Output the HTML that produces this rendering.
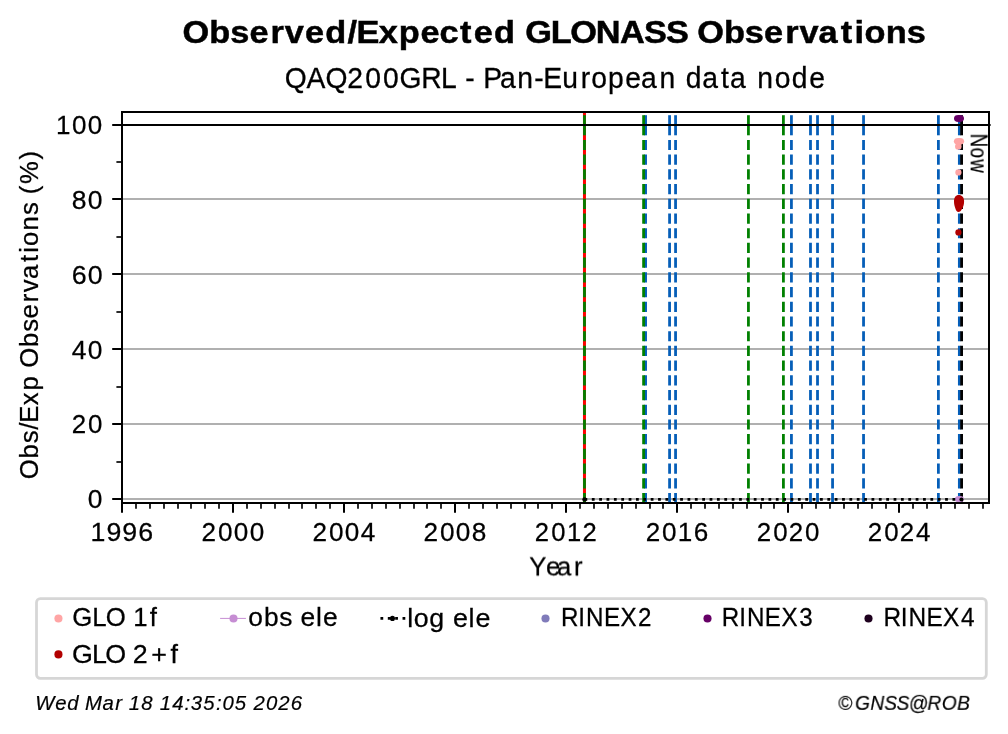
<!DOCTYPE html>
<html lang="en"><head><meta charset="utf-8"><title>Observed/Expected GLONASS Observations</title>
<style>html,body{margin:0;padding:0;background:#fff}body{width:1008px;height:734px;overflow:hidden}svg{display:block}text{font-family:"Liberation Sans",sans-serif;font-size:20px;fill:#000}</style>
</head><body>
<svg width="1008" height="734" viewBox="0 0 1008 734" style="will-change:transform">
<defs><mask id="m" maskUnits="userSpaceOnUse" x="0" y="0" width="1008" height="734"><rect width="1008" height="734" fill="#fff"/></mask></defs>
<rect width="1008" height="734" fill="#fff"/>
<g stroke="#b0b0b0" stroke-width="2">
<line x1="122" x2="989" y1="499" y2="499"/>
<line x1="122" x2="989" y1="424" y2="424"/>
<line x1="122" x2="989" y1="349" y2="349"/>
<line x1="122" x2="989" y1="274" y2="274"/>
<line x1="122" x2="989" y1="199" y2="199"/>
</g>
<g stroke-width="2.78" fill="none">
<line x1="584.47" x2="584.47" y1="112" y2="503" stroke="#f00" stroke-width="3"/>
<line x1="584.47" x2="584.47" y1="115.2" y2="135.3" stroke="#008000"/><line x1="584.47" x2="584.47" y1="139.9" y2="503.5" stroke="#008000" stroke-dasharray="10.2 4.51"/>
<line x1="645.58" x2="645.58" y1="115.2" y2="135.3" stroke="#055eb8"/><line x1="645.58" x2="645.58" y1="139.9" y2="503.5" stroke="#055eb8" stroke-dasharray="10.2 4.51"/>
<line x1="643.6" x2="643.6" y1="115.2" y2="135.3" stroke="#008000"/><line x1="643.6" x2="643.6" y1="139.9" y2="503.5" stroke="#008000" stroke-dasharray="10.2 4.51"/>
<line x1="669.57" x2="669.57" y1="115.2" y2="135.3" stroke="#055eb8"/><line x1="669.57" x2="669.57" y1="139.9" y2="503.5" stroke="#055eb8" stroke-dasharray="10.2 4.51"/>
<line x1="675.56" x2="675.56" y1="115.2" y2="135.3" stroke="#055eb8"/><line x1="675.56" x2="675.56" y1="139.9" y2="503.5" stroke="#055eb8" stroke-dasharray="10.2 4.51"/>
<line x1="748.43" x2="748.43" y1="115.2" y2="135.3" stroke="#008000"/><line x1="748.43" x2="748.43" y1="139.9" y2="503.5" stroke="#008000" stroke-dasharray="10.2 4.51"/>
<line x1="783.41" x2="783.41" y1="115.2" y2="135.3" stroke="#008000"/><line x1="783.41" x2="783.41" y1="139.9" y2="503.5" stroke="#008000" stroke-dasharray="10.2 4.51"/>
<line x1="791.43" x2="791.43" y1="115.2" y2="135.3" stroke="#055eb8"/><line x1="791.43" x2="791.43" y1="139.9" y2="503.5" stroke="#055eb8" stroke-dasharray="10.2 4.51"/>
<line x1="810.49" x2="810.49" y1="115.2" y2="135.3" stroke="#055eb8"/><line x1="810.49" x2="810.49" y1="139.9" y2="503.5" stroke="#055eb8" stroke-dasharray="10.2 4.51"/>
<line x1="817.51" x2="817.51" y1="115.2" y2="135.3" stroke="#055eb8"/><line x1="817.51" x2="817.51" y1="139.9" y2="503.5" stroke="#055eb8" stroke-dasharray="10.2 4.51"/>
<line x1="832.56" x2="832.56" y1="115.2" y2="135.3" stroke="#055eb8"/><line x1="832.56" x2="832.56" y1="139.9" y2="503.5" stroke="#055eb8" stroke-dasharray="10.2 4.51"/>
<line x1="863.54" x2="863.54" y1="115.2" y2="135.3" stroke="#055eb8"/><line x1="863.54" x2="863.54" y1="139.9" y2="503.5" stroke="#055eb8" stroke-dasharray="10.2 4.51"/>
<line x1="938.39" x2="938.39" y1="115.2" y2="135.3" stroke="#055eb8"/><line x1="938.39" x2="938.39" y1="139.9" y2="503.5" stroke="#055eb8" stroke-dasharray="10.2 4.51"/>
<line x1="959.35" x2="959.35" y1="115.2" y2="135.3" stroke="#055eb8"/><line x1="959.35" x2="959.35" y1="139.9" y2="503.5" stroke="#055eb8" stroke-dasharray="10.2 4.51"/>
<line x1="961.6" x2="961.6" y1="115.2" y2="135.3" stroke="#000"/><line x1="961.6" x2="961.6" y1="139.9" y2="503.5" stroke="#000" stroke-dasharray="10.2 4.51"/>
</g>
<line x1="122" x2="990.6" y1="125" y2="125" stroke="#000" stroke-width="2"/>
<rect x="954.9" y="495.9" width="9" height="6.4" rx="3.9" ry="3.2" fill="#c68dd3"/>
<line x1="584.47" x2="961.4" y1="499.4" y2="499.4" stroke="#000" stroke-width="2.6" stroke-dasharray="2.78 4.58"/>
<circle cx="584.5" cy="499.4" r="2.2"/><circle cx="961.5" cy="499.4" r="2"/>
<g fill="#ffa5a5"><rect x="953.9" y="137.9" width="10.2" height="6.8" rx="4.3" ry="3.4"/><circle cx="958.3" cy="146.4" r="3.25"/><circle cx="958.4" cy="172.45" r="3.1"/></g>
<g fill="#b20000"><path d="M958.8 195C962 195 964.1 197.6 964.1 201C964.1 205 963.2 207 961.7 209.4C960.6 211.2 959.6 211.9 958.5 211.9C957 211.9 955.9 210.6 955.3 208.2C954.7 206 954 204.6 954 201.4C954 197.6 955.6 195 958.8 195Z"/><circle cx="958.4" cy="232.45" r="3.1"/></g>
<rect x="954" y="115.1" width="10" height="6.8" rx="4.3" ry="3.4" fill="#660066"/>
<rect x="122" y="112" width="867" height="391" fill="none" stroke="#000" stroke-width="2"/>
<g stroke="#000" stroke-width="2">
<line x1="112.2" x2="122" y1="499" y2="499"/>
<line x1="112.2" x2="122" y1="424" y2="424"/>
<line x1="112.2" x2="122" y1="349" y2="349"/>
<line x1="112.2" x2="122" y1="274" y2="274"/>
<line x1="112.2" x2="122" y1="199" y2="199"/>
<line x1="112.2" x2="122" y1="125" y2="125"/>
<line x1="122" x2="122" y1="503" y2="512.7"/>
<line x1="233" x2="233" y1="503" y2="512.7"/>
<line x1="344" x2="344" y1="503" y2="512.7"/>
<line x1="455" x2="455" y1="503" y2="512.7"/>
<line x1="566" x2="566" y1="503" y2="512.7"/>
<line x1="677" x2="677" y1="503" y2="512.7"/>
<line x1="788" x2="788" y1="503" y2="512.7"/>
<line x1="899" x2="899" y1="503" y2="512.7"/>
</g>
<g stroke="#000" stroke-width="1.67">
<line x1="116.4" x2="122" y1="462" y2="462"/>
<line x1="116.4" x2="122" y1="387" y2="387"/>
<line x1="116.4" x2="122" y1="312" y2="312"/>
<line x1="116.4" x2="122" y1="237" y2="237"/>
<line x1="116.4" x2="122" y1="162" y2="162"/>
<line x1="136" x2="136" y1="503" y2="508.7"/>
<line x1="150" x2="150" y1="503" y2="508.7"/>
<line x1="164" x2="164" y1="503" y2="508.7"/>
<line x1="178" x2="178" y1="503" y2="508.7"/>
<line x1="191" x2="191" y1="503" y2="508.7"/>
<line x1="205" x2="205" y1="503" y2="508.7"/>
<line x1="219" x2="219" y1="503" y2="508.7"/>
<line x1="247" x2="247" y1="503" y2="508.7"/>
<line x1="261" x2="261" y1="503" y2="508.7"/>
<line x1="275" x2="275" y1="503" y2="508.7"/>
<line x1="289" x2="289" y1="503" y2="508.7"/>
<line x1="302" x2="302" y1="503" y2="508.7"/>
<line x1="316" x2="316" y1="503" y2="508.7"/>
<line x1="330" x2="330" y1="503" y2="508.7"/>
<line x1="358" x2="358" y1="503" y2="508.7"/>
<line x1="372" x2="372" y1="503" y2="508.7"/>
<line x1="386" x2="386" y1="503" y2="508.7"/>
<line x1="400" x2="400" y1="503" y2="508.7"/>
<line x1="414" x2="414" y1="503" y2="508.7"/>
<line x1="427" x2="427" y1="503" y2="508.7"/>
<line x1="441" x2="441" y1="503" y2="508.7"/>
<line x1="469" x2="469" y1="503" y2="508.7"/>
<line x1="483" x2="483" y1="503" y2="508.7"/>
<line x1="497" x2="497" y1="503" y2="508.7"/>
<line x1="511" x2="511" y1="503" y2="508.7"/>
<line x1="525" x2="525" y1="503" y2="508.7"/>
<line x1="538" x2="538" y1="503" y2="508.7"/>
<line x1="552" x2="552" y1="503" y2="508.7"/>
<line x1="580" x2="580" y1="503" y2="508.7"/>
<line x1="594" x2="594" y1="503" y2="508.7"/>
<line x1="608" x2="608" y1="503" y2="508.7"/>
<line x1="622" x2="622" y1="503" y2="508.7"/>
<line x1="636" x2="636" y1="503" y2="508.7"/>
<line x1="650" x2="650" y1="503" y2="508.7"/>
<line x1="663" x2="663" y1="503" y2="508.7"/>
<line x1="691" x2="691" y1="503" y2="508.7"/>
<line x1="705" x2="705" y1="503" y2="508.7"/>
<line x1="719" x2="719" y1="503" y2="508.7"/>
<line x1="733" x2="733" y1="503" y2="508.7"/>
<line x1="747" x2="747" y1="503" y2="508.7"/>
<line x1="761" x2="761" y1="503" y2="508.7"/>
<line x1="774" x2="774" y1="503" y2="508.7"/>
<line x1="802" x2="802" y1="503" y2="508.7"/>
<line x1="816" x2="816" y1="503" y2="508.7"/>
<line x1="830" x2="830" y1="503" y2="508.7"/>
<line x1="844" x2="844" y1="503" y2="508.7"/>
<line x1="858" x2="858" y1="503" y2="508.7"/>
<line x1="872" x2="872" y1="503" y2="508.7"/>
<line x1="886" x2="886" y1="503" y2="508.7"/>
<line x1="913" x2="913" y1="503" y2="508.7"/>
<line x1="927" x2="927" y1="503" y2="508.7"/>
<line x1="941" x2="941" y1="503" y2="508.7"/>
<line x1="955" x2="955" y1="503" y2="508.7"/>
<line x1="969" x2="969" y1="503" y2="508.7"/>
<line x1="983" x2="983" y1="503" y2="508.7"/>
</g>
<rect x="36.5" y="598.7" width="949.8" height="79.7" rx="3.8" fill="#fff" stroke="#d6d6d6" stroke-width="2.78"/>
<circle cx="58.45" cy="618.45" r="4.05" fill="#ffa5a5"/><circle cx="58.45" cy="654.4" r="4.05" fill="#b20000"/>
<line x1="220.1" x2="245.9" y1="618.4" y2="618.4" stroke="#c68dd3" stroke-width="1"/><circle cx="233.5" cy="618.45" r="4.05" fill="#c68dd3"/>
<line x1="380.45" x2="405.9" y1="618.4" y2="618.4" stroke="#000" stroke-width="2.78" stroke-dasharray="2.78 4.58"/><circle cx="392.45" cy="618.4" r="2.55"/>
<circle cx="545.5" cy="618.45" r="4.05" fill="#807bba"/><circle cx="707.5" cy="618.45" r="4.05" fill="#660066"/><circle cx="868.5" cy="618.45" r="4.05" fill="#1e001e"/>
<g mask="url(#m)">
<text transform="matrix(1.7168 0 0 1.6042 182.88 42.6)" x="-0.21 15.43 27.57 38.75 51.1 59.37 71.08 82.88 95.85 101.16 114.13 125.74 138.43 149.47 161.39 169.44 181.24 193.75 199.46 214.28 225.58 240.44 254.67 268.58 281.39 293.58 299.56 315.2 327.34 338.51 350.86 359.14 370.23 383.24 391.21 397.05 409.44 421.63" font-weight="bold" stroke="#000" stroke-width="0.3">Observed/Expected GLONASS Observations</text>
<text transform="matrix(1.4143 0 0 1.4583 284.74 87.9)" x="-0.04 15.42 28.77 44.26 56.98 69.53 81.22 96.44 110.46 121.09 127.58 134.43 140.3 152.28 164.39 176.36 182.7 196.3 209.25 216.73 228.57 240.75 251.98 264.97 276.73 283.55 295.2 308.51 314.91 327.2 334.18 346.39 358.41 370.85" stroke="#000" stroke-width="0.2">QAQ200GRL - Pan-European data node</text>
<text transform="matrix(1.3178 0 0 1.3018 87.15 508.2)" x="0.47" stroke="#000" stroke-width="0.2">0</text>
<text transform="matrix(1.2944 0 0 1.3018 71.25 433.35)" x="0.32 12.94" stroke="#000" stroke-width="0.2">20</text>
<text transform="matrix(1.3178 0 0 1.3018 71.25 358.5)" x="0.47 12.61" stroke="#000" stroke-width="0.2">40</text>
<text transform="matrix(1.3404 0 0 1.3018 71.25 283.65)" x="0.37 12.3" stroke="#000" stroke-width="0.2">60</text>
<text transform="matrix(1.3249 0 0 1.3018 71.25 208.8)" x="0.44 12.51" stroke="#000" stroke-width="0.2">80</text>
<text transform="matrix(1.2994 0 0 1.3018 55.34 133.95)" x="0.45 12.77 24.99" stroke="#000" stroke-width="0.2">100</text>
<text transform="matrix(1.3375 0 0 1.3018 90.19 541.1)" x="0.27 12.19 24.06 35.99" stroke="#000" stroke-width="0.2">1996</text>
<text transform="matrix(1.3062 0 0 1.3018 201.24 541.1)" x="0.27 12.77 24.93 37.08" stroke="#000" stroke-width="0.2">2000</text>
<text transform="matrix(1.3064 0 0 1.3018 312.24 541.1)" x="0.27 12.77 24.92 37.07" stroke="#000" stroke-width="0.2">2004</text>
<text transform="matrix(1.3097 0 0 1.3018 423.29 541.1)" x="0.25 12.72 24.84 36.96" stroke="#000" stroke-width="0.2">2008</text>
<text transform="matrix(1.2797 0 0 1.3018 534.35 541.1)" x="0.39 13.15 25.46 37.7" stroke="#000" stroke-width="0.2">2012</text>
<text transform="matrix(1.3035 0 0 1.3018 645.4 541.1)" x="0.28 12.81 24.89 37.17" stroke="#000" stroke-width="0.2">2016</text>
<text transform="matrix(1.2944 0 0 1.3018 756.46 541.1)" x="0.32 12.94 24.95 37.57" stroke="#000" stroke-width="0.2">2020</text>
<text transform="matrix(1.2947 0 0 1.3018 867.45 541.1)" x="0.32 12.94 24.94 37.55" stroke="#000" stroke-width="0.2">2024</text>
<text transform="matrix(1.2825 0 0 1.3188 530.15 575.8)" x="-0.72 12.36 20.93 34.2" stroke="#000" stroke-width="0.2">Year</text>
<text transform="matrix(0 -1.2856 1.3062 0 37.9 479.1)" x="-0.12 16 27.81 38.32 43.75 57.4 68.9 80.51 86.61 102.73 114.54 125.01 137.56 145.34 155.73 168.9 175.99 181.34 193.45 205.36 215.37 221.55 229.52 248.62" stroke="#000" stroke-width="0.2">Obs/Exp Observations (%)</text>
<text transform="matrix(0 0.93 -1.2264 0 971.1 133.71)" x="0.12 15.11 27.46" stroke="#000" stroke-width="0.2">Now</text>
<text transform="matrix(1.2878 0 0 1.3062 72.7 625.8)" x="-0.26 15.21 25.69 40.38 47.1 59.81" stroke="#000" stroke-width="0.2">GLO 1f</text>
<text transform="matrix(1.3418 0 0 1.3062 72.7 662.8)" x="-0.56 14.35 24.34 38.75 44.83 58.61 72.93" stroke="#000" stroke-width="0.2">GLO 2+f</text>
<text transform="matrix(1.3174 0 0 1.3062 247.92 626)" x="0.25 12.15 23.7 33.59 39.97 51.75 56.96" stroke="#000" stroke-width="0.2">obs ele</text>
<text transform="matrix(1.3408 0 0 1.3062 406.64 626.8)" x="0.37 5.37 16.84 28.43 34.61 46.23 51.3" stroke="#000" stroke-width="0.2">log ele</text>
<text transform="matrix(1.2099 0 0 1.325 560.55 626.1)" x="0.32 14.63 21.06 35.88 49.56 64.07" stroke="#000" stroke-width="0.2">RINEX2</text>
<text transform="matrix(1.2095 0 0 1.325 721.45 626.1)" x="0.32 14.63 21.07 35.89 49.57 64.38" stroke="#000" stroke-width="0.2">RINEX3</text>
<text transform="matrix(1.2192 0 0 1.325 883.15 626.1)" x="0.26 14.49 20.85 35.55 49.13 63.8" stroke="#000" stroke-width="0.2">RINEX4</text>
<text transform="matrix(1.0162 0 0 1.0208 35.63 709.7)" x="-0.41 19.32 31.15 42.93 48.7 65.87 78.43 85.37 91.65 103.92 115.88 122.16 134.53 146.55 152.68 165.02 177.43 183.95 195.89 208.13 214.46 226.63 238.81 250.96" font-style="italic" stroke="#000" stroke-width="0.2">Wed Mar 18 14:35:05 2026</text>
<text transform="matrix(0.9588 0 0 1.0306 835.61 709.4)" x="2.46 20.31 36.17 50.7 63.61 76.23 95.88 110.76 126.83" font-style="italic" stroke="#000" stroke-width="0.2">©GNSS@ROB</text>
</g>
</svg>
</body></html>
